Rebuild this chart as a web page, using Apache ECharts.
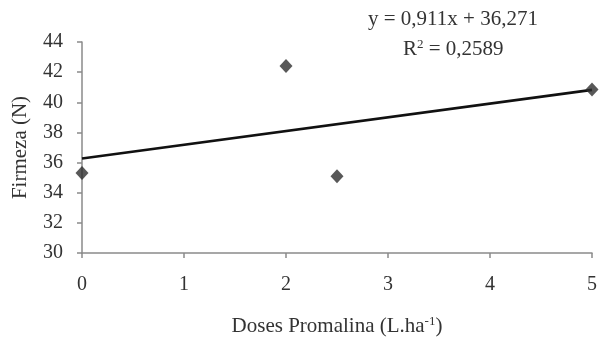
<!DOCTYPE html>
<html>
<head>
<meta charset="utf-8">
<script src="https://cdn.jsdelivr.net/npm/echarts@6/dist/echarts.min.js"></script>
<style>
  html, body { margin: 0; padding: 0; background: #fff; }
  #main { width: 600px; height: 337px; }
</style>
</head>
<body>
<div id="main"></div>
<script>
// dados
var doses = [0, 2, 2.5, 5];
var firmeza = [35.3, 42.4, 35.1, 40.85];
var slope = 0.911;
var intercept = 36.271;
var trendX = [0, 5];

var chartDom = document.getElementById('main');
var myChart = echarts.init(chartDom);
var option;

var serif = 'Liberation Serif';
var axisColor = '#8a8a8a';
var textColor = '#333';

option = {
  animation: false,
  textStyle: { fontFamily: serif },
  grid: { left: 82, right: 8, top: 42, bottom: 84, containLabel: false, outerBoundsMode: 'none' },
  xAxis: {
    type: 'value',
    min: 0,
    max: 5,
    interval: 1,
    name: 'Doses Promalina (L.ha{sup|-1})',
    nameLocation: 'middle',
    nameGap: 62,
    nameTextStyle: {
      fontFamily: serif, fontSize: 21, color: textColor,
      rich: { sup: { fontFamily: serif, fontSize: 13, color: textColor, verticalAlign: 'top', padding: [0, 0, 10, 0] } }
    },
    axisLine: { lineStyle: { color: axisColor, width: 1.5 } },
    axisTick: { show: true, length: 5, lineStyle: { color: axisColor, width: 1.5 } },
    axisLabel: { fontFamily: serif, fontSize: 20, color: textColor, margin: 22 },
    splitLine: { show: false }
  },
  yAxis: {
    type: 'value',
    min: 30,
    max: 44,
    interval: 2,
    name: 'Firmeza (N)',
    nameLocation: 'middle',
    nameGap: 51,
    nameTextStyle: { fontFamily: serif, fontSize: 21, color: textColor },
    axisLine: { show: true, lineStyle: { color: axisColor, width: 1.5 } },
    axisTick: { show: true, length: 5, lineStyle: { color: axisColor, width: 1.5 } },
    axisLabel: { fontFamily: serif, fontSize: 20, color: textColor, margin: 19 },
    splitLine: { show: false }
  },
  graphic: [
    {
      type: 'text', left: 368, top: 9,
      style: { text: 'y = 0,911x + 36,271', font: '21px "Liberation Serif"', fill: textColor }
    },
    {
      type: 'text', left: 403, top: 38,
      style: {
        text: 'R{sup|2} = 0,2589', font: '21px "Liberation Serif"', fill: textColor,
        rich: { sup: { fontFamily: serif, fontSize: 13, fill: textColor, verticalAlign: 'top', padding: [0, 0, 10, 0] } }
      }
    }
  ],
  series: [
    {
      name: 'tendencia',
      type: 'line',
      data: trendX.map(function (x) { return [x, intercept + slope * x]; }),
      showSymbol: false,
      lineStyle: { color: '#111', width: 2.6 },
      z: 2
    },
    {
      name: 'Firmeza',
      type: 'scatter',
      data: doses.map(function (d, i) { return [d, firmeza[i]]; }),
      symbol: 'diamond',
      symbolSize: [13, 14],
      itemStyle: { color: '#2e2e2e' },
      z: 3
    }
  ]
};
option && myChart.setOption(option);
</script>
</body>
</html>
